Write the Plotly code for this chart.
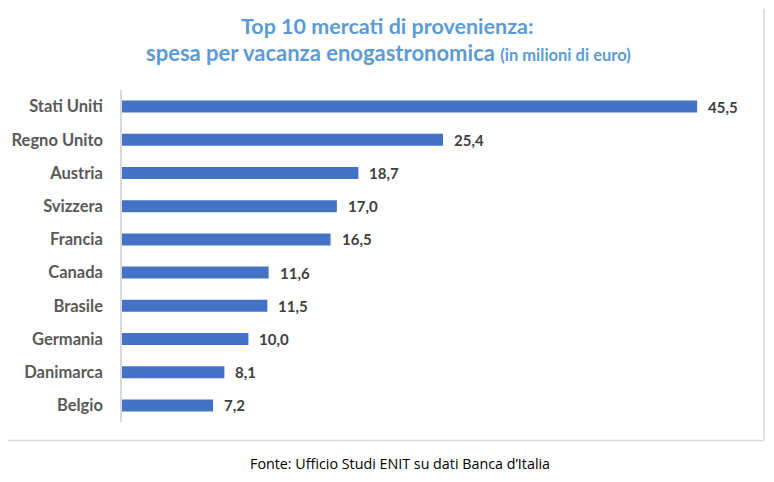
import plotly.graph_objects as go

categories = ["Stati Uniti", "Regno Unito", "Austria", "Svizzera", "Francia",
              "Canada", "Brasile", "Germania", "Danimarca", "Belgio"]
values = [45.5, 25.4, 18.7, 17.0, 16.5, 11.6, 11.5, 10.0, 8.1, 7.2]

# page body has an 8px margin: work in screen pixels, convert to figure pixels
OFF = 8
W, H = 766, 466
L, R, T, B = 114, 20, 81.5, 51.5
pw, ph = W - L - R, H - T - B

def px_x(sx):
    return (sx - OFF - L) / pw

def px_y(sy):
    return (H - B - (sy - OFF)) / ph

fig = go.Figure()
fig.add_trace(go.Bar(
    x=values, y=categories, orientation="h",
    marker=dict(color="#4472C4", line=dict(width=0)),
    hoverinfo="skip",
))

for c, v in zip(categories, values):
    fig.add_annotation(x=v, y=c, xref="x", yref="y", text=f"<b>{v:.1f}</b>".replace(".", ","),
                       showarrow=False, xanchor="left", xshift=9,
                       font=dict(family="Lato", size=15, color="#404040"))

# right and bottom edges of the chart frame
fig.add_shape(type="line", xref="paper", yref="paper",
              x0=px_x(764), x1=px_x(764), y0=px_y(441), y1=px_y(8),
              line=dict(color="#d9d9d9", width=1.5))
fig.add_shape(type="line", xref="paper", yref="paper",
              x0=px_x(8), x1=px_x(764), y0=px_y(441), y1=px_y(441),
              line=dict(color="#d9d9d9", width=1.5))

fig.add_annotation(xref="paper", yref="paper", x=px_x(387), y=px_y(25),
                   text="<b>Top 10 mercati di provenienza:</b>", showarrow=False,
                   xanchor="center", yanchor="middle",
                   font=dict(family="Lato", size=21.5, color="#5B9BD5"))
fig.add_annotation(xref="paper", yref="paper", x=px_x(388), y=px_y(52),
                   text="<b>spesa per vacanza enogastronomica <span style='font-size:16.5px'>(in milioni di euro)</span></b>",
                   showarrow=False, xanchor="center", yanchor="middle",
                   font=dict(family="Lato", size=22, color="#5B9BD5"))
fig.add_annotation(xref="paper", yref="paper", x=px_x(400), y=px_y(464),
                   text="Fonte: Ufficio Studi ENIT su dati Banca d\u2019Italia", showarrow=False,
                   xanchor="center", yanchor="middle",
                   font=dict(family="Open Sans", size=14.3, color="#000000"))

fig.update_layout(
    width=W, height=H,
    margin=dict(l=L, r=R, t=T, b=B, pad=0, autoexpand=False),
    paper_bgcolor="white", plot_bgcolor="white",
    showlegend=False, bargap=0.64,
    xaxis=dict(range=[0, pw / 12.64], showgrid=False, showticklabels=False,
               zeroline=False, showline=False, ticks="", automargin=False),
    yaxis=dict(autorange="reversed", showgrid=False, showline=True, automargin=False,
               linecolor="#d9d9d9", linewidth=1.5, ticks="", ticklabelstandoff=14,
               tickfont=dict(family="Lato", size=16.5, color="#595959", weight="bold")),
)

fig.write_html("out.html")
